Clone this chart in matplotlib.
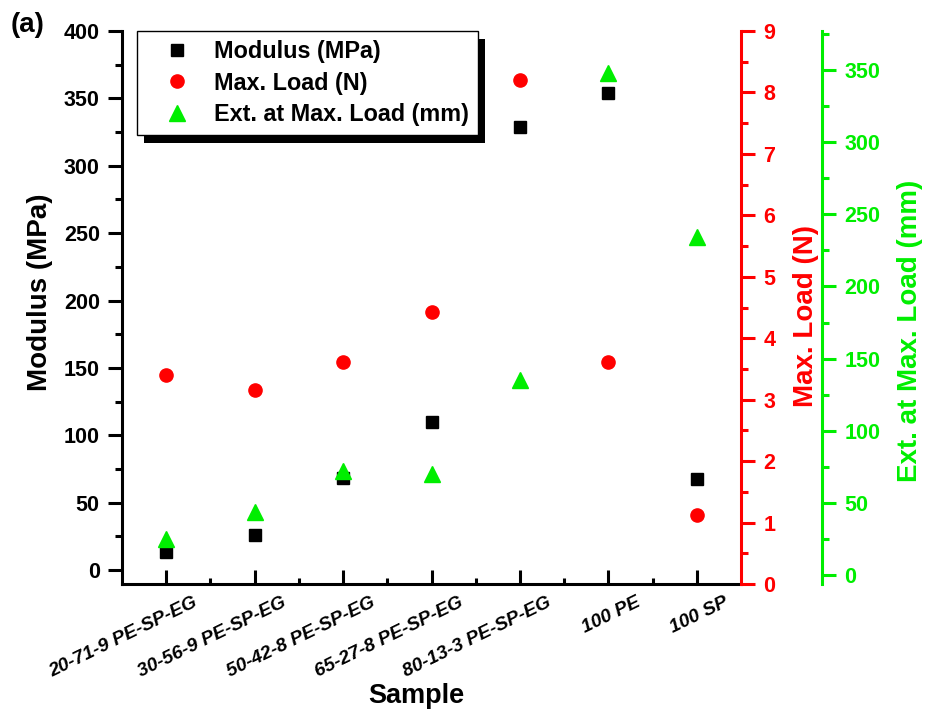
import numpy as np
import matplotlib
matplotlib.use('Agg')
import matplotlib.pyplot as plt
import matplotlib.transforms as mtransforms
from matplotlib.ticker import MultipleLocator, FixedLocator
from matplotlib.patches import Rectangle

plt.rcParams['font.family'] = ['Liberation Sans', 'DejaVu Sans']
plt.rcParams['font.weight'] = 'bold'

# data
samples = ['20-71-9 PE-SP-EG', '30-56-9 PE-SP-EG', '50-42-8 PE-SP-EG',
           '65-27-8 PE-SP-EG', '80-13-3 PE-SP-EG', '100 PE', '100 SP']
modulus = [13.5, 26, 68, 110, 329, 354, 67.5]
max_load = [3.40, 3.15, 3.62, 4.43, 8.20, 3.61, 1.12]
ext_load = [25, 44, 72, 70, 135, 348, 234]

x = np.arange(1, len(samples) + 1)
green = '#00ee00'

fig = plt.figure(figsize=(9.28, 7.15), dpi=100)
ax = fig.add_axes([0.1315, 0.1832, 0.667, 0.7734])
ax2 = ax.twinx()
ax3 = ax.twinx()

p1, = ax.plot(x, modulus, 's', color='black', markersize=8.5, linestyle='none', label='Modulus (MPa)')
p2, = ax2.plot(x, max_load, 'o', color='red', markersize=9.5, linestyle='none', label='Max. Load (N)')
p3, = ax3.plot(x, ext_load, '^', color=green, markersize=11, linestyle='none', label='Ext. at Max. Load (mm)')

ax.set_xlim(0.5, 7.5)
ax.set_ylim(-10.4, 400)
ax2.set_ylim(0, 9)
ax3.set_ylim(-6.2, 377)

lw = 2.2
# main axes
for s in ['top', 'right']:
    ax.spines[s].set_visible(False)
ax.spines['left'].set_linewidth(lw)
ax.spines['bottom'].set_linewidth(lw)
ax.yaxis.set_major_locator(MultipleLocator(50))
ax.yaxis.set_minor_locator(MultipleLocator(25))
ax.tick_params(axis='y', which='major', direction='out', length=10, width=lw, labelsize=15.5, pad=6)
ax.tick_params(axis='y', which='minor', direction='out', length=5, width=lw)
ax.set_xticks(x)
ax.xaxis.set_minor_locator(FixedLocator(np.arange(1.5, 7.5, 1.0)))
ax.tick_params(axis='x', which='major', direction='in', length=10, width=lw, labelsize=13.8, pad=7)
ax.tick_params(axis='x', which='minor', direction='in', length=4, width=lw)
ax.set_xticklabels(samples, rotation=26, ha='right', va='top', rotation_mode='anchor',
                   style='italic', fontweight='bold')
shift = mtransforms.ScaledTranslation(0.27, 0, fig.dpi_scale_trans)
for lab in ax.get_xticklabels():
    lab.set_transform(lab.get_transform() + shift)
ax.set_ylabel('Modulus (MPa)', fontsize=20, fontweight='bold', va='center', ha='center')
ax.yaxis.set_label_coords(-0.1325, 0.527)
ax.set_xlabel('Sample', fontsize=19.5, fontweight='bold', va='center', ha='center')
ax.xaxis.set_label_coords(0.476, -0.202)

# red axis
for s in ['top', 'left', 'bottom']:
    ax2.spines[s].set_visible(False)
ax2.spines['right'].set_color('red')
ax2.spines['right'].set_linewidth(lw)
ax2.yaxis.set_major_locator(MultipleLocator(1))
ax2.yaxis.set_minor_locator(MultipleLocator(0.5))
ax2.tick_params(axis='y', which='major', colors='red', direction='out', length=10, width=lw, labelsize=15.5, pad=6)
ax2.tick_params(axis='y', which='minor', colors='red', direction='out', length=5, width=lw)
ax2.set_ylabel('Max. Load (N)', color='red', fontsize=20, fontweight='bold', va='center', ha='center')
ax2.yaxis.set_label_coords(1.105, 0.485)

# green axis
for s in ['top', 'left', 'bottom']:
    ax3.spines[s].set_visible(False)
ax3.spines['right'].set_position(('axes', 1.131))
ax3.spines['right'].set_color(green)
ax3.spines['right'].set_linewidth(lw)
ax3.yaxis.set_major_locator(MultipleLocator(50))
ax3.yaxis.set_minor_locator(MultipleLocator(25))
ax3.tick_params(axis='y', which='major', colors=green, direction='out', length=10, width=lw, labelsize=15.5, pad=6)
ax3.tick_params(axis='y', which='minor', colors=green, direction='out', length=5, width=lw)
ax3.set_ylabel('Ext. at Max. Load (mm)', color=green, fontsize=20, fontweight='bold', va='center', ha='center')
ax3.yaxis.set_label_coords(1.273, 0.457)

leg = ax3.legend(handles=[p1, p2, p3], loc='upper left', bbox_to_anchor=(0.024, 1.0),
                 borderaxespad=0, fancybox=False, framealpha=1, edgecolor='black',
                 handlelength=2.6, handletextpad=0.3, labelspacing=0.35, borderpad=0.4,
                 prop={'weight': 'bold', 'size': 16.8})
leg.get_frame().set_linewidth(1.0)

fig.text(0.011, 0.955, '(a)', fontsize=20, fontweight='bold')

# legend drop shadow
fig.canvas.draw()
bb = leg.get_window_extent()
shadow = Rectangle((bb.x0 + 7, bb.y0 - 8), bb.width, bb.height, transform=None,
                   facecolor='black', edgecolor='none')
ax3.add_artist(shadow)
shadow.set_zorder(4.9)
leg.set_zorder(5)

fig.savefig('out.png', dpi=100)
